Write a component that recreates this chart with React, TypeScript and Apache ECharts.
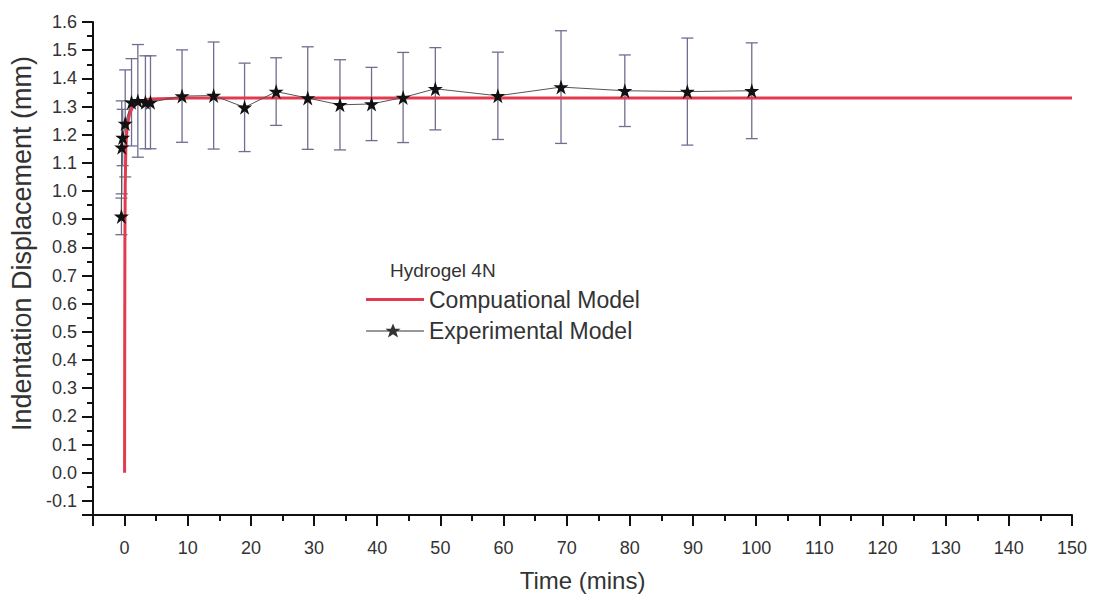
import React, { useEffect, useRef } from 'react';
import * as echarts from 'echarts';

// Computational model curve (time in mins, displacement in mm)
const compTime = [0, 0.02, 0.05, 0.1, 0.2, 0.35, 0.5, 0.8, 1.3, 2.4, 4, 10, 150];
const compValue = [0, 0.43, 0.8, 1.02, 1.15, 1.21, 1.24, 1.275, 1.3, 1.318, 1.327, 1.33, 1.33];

// Experimental model: mean and error (half-length of error bar)
const expTime = [-0.5, -0.45, -0.3, 0.1, 1.1, 2.1, 3.3, 4.1, 9.1, 14.1, 19.0, 24.0, 29.0, 34.1, 39.1, 44.1, 49.2, 59.1, 69.1, 79.2, 89.1, 99.3];
const expMean = [0.91, 1.155, 1.19, 1.24, 1.315, 1.32, 1.315, 1.315, 1.337, 1.339, 1.297, 1.353, 1.33, 1.306, 1.309, 1.332, 1.363, 1.338, 1.369, 1.356, 1.353, 1.356];
const expErr = [0.065, 0.165, 0.1, 0.19, 0.155, 0.2, 0.165, 0.165, 0.164, 0.19, 0.157, 0.12, 0.182, 0.16, 0.13, 0.16, 0.146, 0.155, 0.2, 0.127, 0.19, 0.17];

const xMin = -5;
const xMax = 150;
const xMajor = 10;
const xMinor = 5;
const yMin = -0.15;
const yMax = 1.6;
const yMajor = 0.1;
const yMinor = 0.05;

const legendTitle = 'Hydrogel 4N';
const compName = 'Compuational Model';
const expName = 'Experimental Model';
const xName = 'Time (mins)';
const yName = 'Indentation Displacement (mm)';

const FONT = '"Liberation Sans", Arial, Helvetica, sans-serif';
const STAR = 'path://M12,0 L14.8,8.6 L23.8,8.6 L16.5,13.9 L19.3,22.5 L12,17.2 L4.7,22.5 L7.5,13.9 L0.2,8.6 L9.2,8.6 Z';
const LINE_ICON = 'path://M0,0 L58,0 L58,3 L0,3 Z';
const STAR_LINE_ICON = 'path://M0,11 L58,11 L58,12 L0,12 Z M27,4 L29.2,9.2 L34.6,9.2 L30.3,12.6 L32,18 L27,14.8 L22,18 L23.7,12.6 L19.4,9.2 L24.8,9.2 Z';

export default function App() {
  const ref = useRef<HTMLDivElement>(null);

  useEffect(() => {
    const chart = echarts.init(ref.current as HTMLDivElement, null, { renderer: 'svg' });

    const compData = compTime.map((t, i) => [t, compValue[i]]);
    const expData = expTime.map((t, i) => [t, expMean[i]]);
    const errData = expTime.map((t, i) => [t, expMean[i] - expErr[i], expMean[i] + expErr[i]]);

    const axisColor = '#111';
    const labelColor = '#333';
    const errColor = '#6e6e90';
    const red = '#e23a4e';

    const option: any = {
      animation: false,
      backgroundColor: '#ffffff',
      title: {
        text: legendTitle,
        left: 390,
        top: 261,
        textStyle: { fontSize: 19, fontWeight: 'normal', color: labelColor, fontFamily: FONT },
        padding: 0,
      },
      legend: {
        data: [
          { name: compName, icon: LINE_ICON, itemStyle: { color: red } },
          { name: expName, icon: STAR_LINE_ICON, itemStyle: { color: '#333' } },
        ],
        orient: 'vertical',
        left: 366,
        top: 288,
        itemWidth: 58,
        itemHeight: 20,
        itemGap: 8,
        padding: 0,
        textStyle: { fontSize: 23, color: labelColor, fontFamily: FONT },
      },
      grid: { left: 91, right: 30, top: 22, bottom: 82, containLabel: false },
      xAxis: [
        {
          type: 'value',
          min: xMin,
          max: xMax,
          minInterval: xMajor,
          maxInterval: xMajor,
          splitNumber: 15,
          position: 'bottom',
          axisLine: { onZero: false, lineStyle: { color: axisColor, width: 2 } },
          axisTick: { length: 11, lineStyle: { color: axisColor, width: 2 } },
          axisLabel: {
            margin: 24,
            fontSize: 18,
            color: labelColor,
            fontFamily: FONT,
            formatter: (v: number) => (Math.abs(v % xMajor) < 1e-6 ? String(Math.round(v)) : ''),
          },
          splitLine: { show: false },
          name: xName,
          nameLocation: 'middle',
          nameGap: 53,
          nameTextStyle: { fontSize: 24, color: labelColor, fontFamily: FONT },
        },
        {
          type: 'value',
          min: xMin,
          max: xMax,
          interval: xMinor,
          position: 'bottom',
          axisLine: { show: false, onZero: false },
          axisTick: { length: 6, lineStyle: { color: axisColor, width: 2 } },
          axisLabel: { show: false },
          splitLine: { show: false },
        },
      ],
      yAxis: [
        {
          type: 'value',
          min: yMin,
          max: yMax,
          minInterval: yMajor,
          maxInterval: yMajor,
          splitNumber: 17,
          position: 'left',
          axisLine: { onZero: false, lineStyle: { color: axisColor, width: 2 } },
          axisTick: { length: 11, lineStyle: { color: axisColor, width: 2 } },
          axisLabel: {
            margin: 16,
            fontSize: 18,
            color: labelColor,
            fontFamily: FONT,
            formatter: (v: number) => {
              const r = Math.round(v * 10);
              return Math.abs(v * 10 - r) < 1e-6 ? (r / 10).toFixed(1) : '';
            },
          },
          splitLine: { show: false },
          name: yName,
          nameLocation: 'middle',
          nameGap: 58,
          nameTextStyle: { fontSize: 27, color: labelColor, fontFamily: FONT, padding: [0, 0, 0, 50] },
        },
        {
          type: 'value',
          min: yMin,
          max: yMax,
          interval: yMinor,
          position: 'left',
          axisLine: { show: false, onZero: false },
          axisTick: { length: 6, lineStyle: { color: axisColor, width: 2 } },
          axisLabel: { show: false },
          splitLine: { show: false },
        },
      ],
      series: [
        {
          type: 'custom',
          name: 'errors',
          xAxisIndex: 0,
          yAxisIndex: 0,
          z: 1,
          encode: { x: 0, y: [1, 2] },
          data: errData,
          renderItem: (params: any, api: any) => {
            const x = api.value(0);
            const lo = api.coord([x, api.value(1)]);
            const hi = api.coord([x, api.value(2)]);
            const w = 6;
            const style = { stroke: errColor, lineWidth: 1.3, fill: 'none' };
            return {
              type: 'group',
              children: [
                { type: 'line', shape: { x1: lo[0], y1: lo[1], x2: hi[0], y2: hi[1] }, style },
                { type: 'line', shape: { x1: lo[0] - w, y1: lo[1], x2: lo[0] + w, y2: lo[1] }, style },
                { type: 'line', shape: { x1: hi[0] - w, y1: hi[1], x2: hi[0] + w, y2: hi[1] }, style },
              ],
            };
          },
        },
        {
          type: 'line',
          name: compName,
          xAxisIndex: 0,
          yAxisIndex: 0,
          z: 3,
          data: compData,
          symbol: 'none',
          smooth: false,
          lineStyle: { color: red, width: 3 },
          itemStyle: { color: red },
        },
        {
          type: 'line',
          name: expName,
          xAxisIndex: 0,
          yAxisIndex: 0,
          z: 4,
          data: expData,
          symbol: STAR,
          symbolSize: 15,
          showAllSymbol: true,
          lineStyle: { color: '#555', width: 1 },
          itemStyle: { color: '#111' },
        },
      ],
    };

    chart.setOption(option);
    return () => chart.dispose();
  }, []);

  return (
    <div
      ref={ref}
      style={{ position: 'fixed', left: 0, top: 0, width: 1102, height: 597, background: '#fff' }}
    />
  );
}
